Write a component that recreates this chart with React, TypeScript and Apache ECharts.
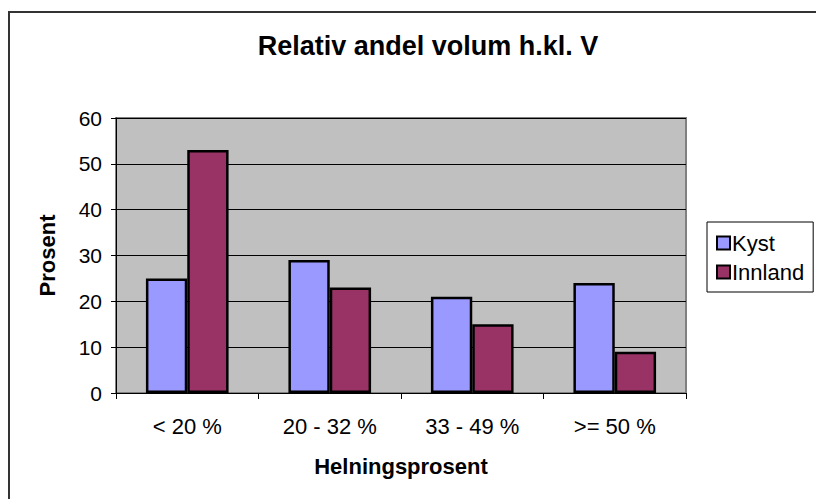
import React, { useEffect, useRef } from "react";
import * as echarts from "echarts";

const categories = ["< 20 %", "20 - 32 %", "33 - 49 %", ">= 50 %"];
const kyst = [25, 29, 21, 24];
const innland = [53, 23, 15, 9];
const yTicks = { min: 0, max: 60, interval: 10 };

export default function App() {
  const ref = useRef<HTMLDivElement>(null);
  useEffect(() => {
    if (!ref.current) return;
    const chart = echarts.init(ref.current, undefined, { renderer: "svg" });
    const font = "'Liberation Sans', Arial, sans-serif";
    chart.setOption({
      animation: false,
      backgroundColor: "#ffffff",
      textStyle: { fontFamily: font },
      title: {
        text: "Relativ andel volum h.kl. V",
        left: 423,
        top: 27,
        textAlign: "center",
        textStyle: { fontFamily: font, fontSize: 27, fontWeight: "bold", color: "#000" },
      },
      graphic: [
        {
          type: "rect",
          shape: { x: 9, y: 12, width: 860, height: 540 },
          style: { fill: "none", stroke: "#333", lineWidth: 2 },
          silent: true,
          z: 100,
        },
      ],
      legend: {
        orient: "vertical",
        left: 707,
        top: 222,
        padding: [10, 9, 9, 9],
        borderColor: "#000",
        borderWidth: 1,
        backgroundColor: "#fff",
        itemWidth: 13,
        itemHeight: 13,
        itemGap: 7,
        icon: "rect",
        itemStyle: { borderColor: "#000", borderWidth: 2 },
        textStyle: { fontFamily: font, fontSize: 22, color: "#000", padding: [0, 0, 0, -3] },
        data: ["Kyst", "Innland"],
      },
      grid: {
        left: 116,
        right: 130,
        top: 118,
        bottom: 106,
        show: true,
        backgroundColor: "#C0C0C0",
        borderColor: "#808080",
        borderWidth: 2,
        containLabel: false,
      },
      xAxis: {
        type: "category",
        data: categories,
        name: "Helningsprosent",
        nameLocation: "middle",
        nameGap: 62,
        nameTextStyle: { fontFamily: font, fontSize: 22, fontWeight: "bold", color: "#000" },
        axisLine: { show: true, lineStyle: { color: "#000", width: 1 } },
        axisTick: { show: true, alignWithLabel: false, length: 6, lineStyle: { color: "#000" } },
        axisLabel: { fontFamily: font, fontSize: 22, color: "#000", margin: 22 },
        splitLine: { show: false },
      },
      yAxis: {
        type: "value",
        min: yTicks.min,
        max: yTicks.max,
        interval: yTicks.interval,
        name: "Prosent",
        nameLocation: "middle",
        nameRotate: 90,
        nameGap: 58,
        nameTextStyle: { fontFamily: font, fontSize: 22, fontWeight: "bold", color: "#000" },
        axisLine: { show: true, lineStyle: { color: "#000", width: 1 } },
        axisTick: { show: true, length: 5, lineStyle: { color: "#000" } },
        axisLabel: { fontFamily: font, fontSize: 21, color: "#000", margin: 14 },
        splitLine: { show: true, lineStyle: { color: "#000", width: 1 } },
      },
      series: [
        {
          name: "Kyst",
          type: "bar",
          data: kyst,
          barGap: "0%",
          barCategoryGap: "42%",
          itemStyle: { color: "#9999FF", borderColor: "#000", borderWidth: 2.5 },
        },
        {
          name: "Innland",
          type: "bar",
          data: innland,
          itemStyle: { color: "#993366", borderColor: "#000", borderWidth: 2.5 },
        },
      ],
    });
    return () => chart.dispose();
  }, []);
  return (
    <div
      ref={ref}
      style={{ position: "fixed", left: 0, top: 0, width: 816, height: 499 }}
    />
  );
}
